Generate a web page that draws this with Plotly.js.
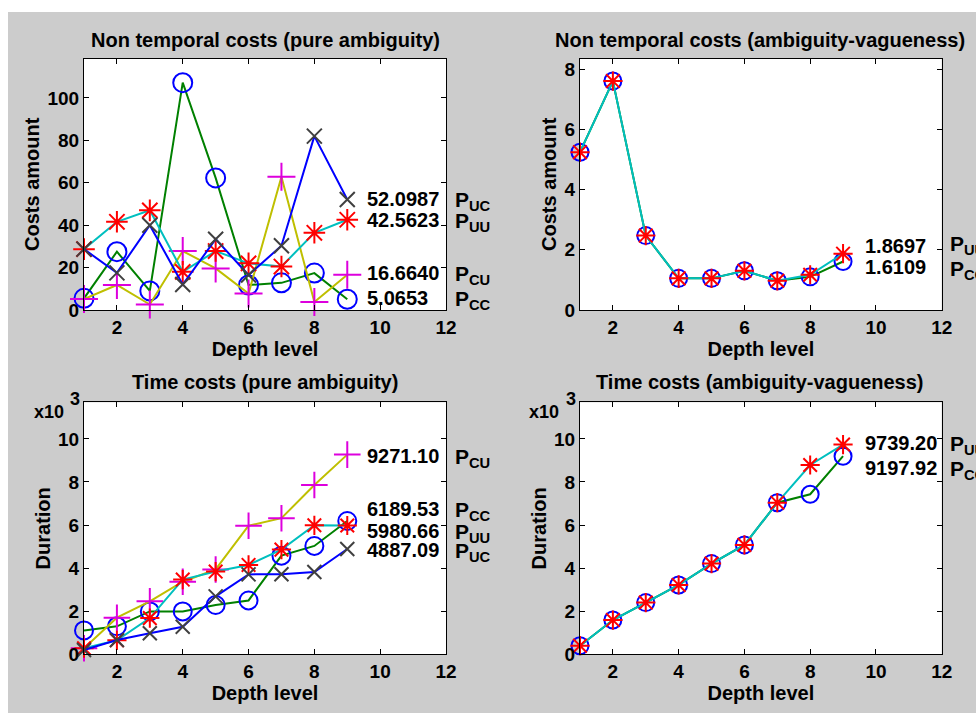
<!DOCTYPE html>
<html><head><meta charset="utf-8">
<script src="https://cdn.plot.ly/plotly-3.0.1.min.js"></script>
<style>html,body{margin:0;padding:0;background:#ffffff;}#chart{position:absolute;left:8px;top:12px;width:968px;height:701px;}</style>
</head><body><div id="chart"></div>
<script>
// ---- data ----
const depth = [1, 2, 3, 4, 5, 6, 7, 8, 9];
const xTicks = [2, 4, 6, 8, 10, 12];

// Non temporal costs (pure ambiguity)
const ntPureUC = [28.7, 17.5, 40.0, 12.0, 33.4, 16.5, 30.3, 82.0, 52.0987];
const ntPureUU = [28.7, 41.6, 47.0, 18.0, 27.8, 22.0, 20.5, 36.4, 42.5623];
const ntPureCU = [5.2, 11.8, 2.6, 27.8, 19.6, 7.8, 62.8, 3.8, 16.6640];
const ntPureCC = [5.5, 27.5, 9.0, 107.2, 62.3, 11.8, 12.8, 17.4, 5.0653];
const ntPureText = ['52.0987', '42.5623', '16.6640', '5.0653'];

// Non temporal costs (ambiguity-vagueness)
const ntVagCC = [5.24, 7.6, 2.47, 1.05, 1.05, 1.3, 0.97, 1.1, 1.6109];
const ntVagUU = [5.24, 7.6, 2.47, 1.05, 1.05, 1.3, 0.97, 1.17, 1.8697];
const ntVagText = ['1.8697', '1.6109'];

// Time costs (pure ambiguity)
const tPureCU = [280, 1700, 2460, 3370, 3940, 5970, 6320, 7860, 9271.10];
const tPureCC = [1110, 1300, 1990, 1990, 2290, 2500, 4580, 5030, 6189.53];
const tPureUU = [280, 650, 1680, 3470, 3840, 4150, 4860, 5990, 5980.66];
const tPureUC = [200, 660, 980, 1280, 2690, 3710, 3720, 3820, 4887.09];
const tPureText = ['9271.10', '6189.53', '5980.66', '4887.09'];

// Time costs (ambiguity-vagueness)
const tVagCC = [400, 1590, 2400, 3220, 4210, 5080, 7040, 7430, 9197.92];
const tVagUU = [400, 1590, 2400, 3220, 4210, 5080, 7040, 8790, 9739.20];
const tVagText = ['9739.20', '9197.92'];

const durTickVals = [0, 2000, 4000, 6000, 8000, 10000];
const durTickText = ['0', '2', '4', '6', '8', '10'];

// ---- styles ----
const FONT = 'Liberation Sans, Arial, Helvetica, sans-serif';
const C = {green: '#008000', blue: '#0000ff', cyan: '#00bfbf', yellow: '#bfbf00',
           red: '#ff0000', gray: '#404040', magenta: '#dd00dd'};
const PX = px => (px - 8) / 968;
const PY = py => 1 - (py - 12) / 701;

function tr(xa, ya, y, lineColor, sym, mColor, mSize) {
  return {x: depth, y: y, xaxis: xa, yaxis: ya, type: 'scatter', mode: 'lines+markers',
    line: {color: lineColor, width: 2}, cliponaxis: false,
    marker: {symbol: sym, color: mColor, size: mSize, line: {color: mColor, width: 2}},
    hoverinfo: 'x+y', showlegend: false};
}

const data = [
  tr('x', 'y', ntPureCC, C.green, 'circle-open', C.blue, 19),
  tr('x', 'y', ntPureCU, C.yellow, 'cross-thin-open', C.magenta, 20),
  tr('x', 'y', ntPureUU, C.cyan, 'asterisk-open', C.red, 18),
  tr('x', 'y', ntPureUC, C.blue, 'x-thin-open', C.gray, 15),

  tr('x2', 'y2', ntVagCC, C.green, 'circle-open', C.blue, 17),
  tr('x2', 'y2', ntVagUU, C.cyan, 'asterisk-open', C.red, 16),

  tr('x3', 'y3', tPureCC, C.green, 'circle-open', C.blue, 18),
  tr('x3', 'y3', tPureCU, C.yellow, 'cross-thin-open', C.magenta, 19),
  tr('x3', 'y3', tPureUU, C.cyan, 'asterisk-open', C.red, 16),
  tr('x3', 'y3', tPureUC, C.blue, 'x-thin-open', C.gray, 14),

  tr('x4', 'y4', tVagCC, C.green, 'circle-open', C.blue, 17),
  tr('x4', 'y4', tVagUU, C.cyan, 'asterisk-open', C.red, 16)
];

const tickFont = {family: FONT, size: 19, color: '#000', weight: 'bold'};
const titleFont = {family: FONT, size: 20, color: '#000', weight: 'bold'};

function xax(dom, anchor) {
  return {domain: dom, anchor: anchor, range: [1, 12], tickvals: xTicks, ticks: 'inside', ticklen: 5,
    tickcolor: '#000', showline: true, linecolor: '#000', linewidth: 1, mirror: 'ticks',
    showgrid: false, zeroline: false, tickfont: tickFont, automargin: false,
    title: {text: 'Depth level', font: titleFont, standoff: 2}};
}
function yax(dom, anchor, range, title, extra) {
  return Object.assign({domain: dom, anchor: anchor, range: range, ticks: 'inside', ticklen: 5,
    tickcolor: '#000', showline: true, linecolor: '#000', linewidth: 1, mirror: 'ticks',
    showgrid: false, zeroline: false, tickfont: tickFont, automargin: false,
    title: {text: title, font: titleFont, standoff: 2}}, extra || {});
}

const domL = [PX(84), PX(446)], domR = [PX(580), PX(941.7)];
const domT = [PY(310), PY(58.5)], domB = [PY(654.3), PY(402.3)];

const ann = [];
function label(xa, ya, x, y, text, size) {
  ann.push({xref: xa, yref: ya, x: x, y: y, text: text, showarrow: false, xanchor: 'left', yanchor: 'middle',
    font: {family: FONT, size: size || 20, color: '#000', weight: 'bold'}});
}
function plabel(pxX, ya, y, sub) {
  ann.push({xref: 'paper', yref: ya, x: PX(pxX), y: y, text: 'P<sub>' + sub + '</sub>', showarrow: false,
    xanchor: 'left', yanchor: 'middle', yshift: -2,
    font: {family: FONT, size: 21, color: '#000', weight: 'bold'}});
}
function ptitle(cx, cy, text) {
  ann.push({xref: 'paper', yref: 'paper', x: PX(cx), y: PY(cy), text: text, showarrow: false,
    xanchor: 'center', yanchor: 'middle', font: titleFont});
}

ptitle(265, 40, 'Non temporal costs (pure ambiguity)');
ptitle(760, 40, 'Non temporal costs (ambiguity-vagueness)');
ptitle(265, 382, 'Time costs (pure ambiguity)');
ptitle(760, 382, 'Time costs (ambiguity-vagueness)');

// top-left value labels
const tlY = [ntPureUC[8], ntPureUU[8], ntPureCU[8], ntPureCC[8]];
const tlOff = [0.3, 0, 1.0, 0.4];
const tlSub = ['UC', 'UU', 'CU', 'CC'];
tlY.forEach((v, i) => { label('x', 'y', 9.55, v + tlOff[i], ntPureText[i]); plabel(453, 'y', v + tlOff[i], tlSub[i]); });

// top-right
const trY = [ntVagUU[8] + 0.24, ntVagCC[8] - 0.17];
['UU', 'CC'].forEach((s, i) => { label('x2', 'y2', 9.6, trY[i], ntVagText[i]); plabel(948, 'y2', trY[i] + 0.12 * (i === 0 ? 1 : -0.3), s); });

// bottom-left
const blY = [tPureCU[8] - 60, tPureCC[8] + 540, tPureUU[8] - 250, tPureUC[8] - 40];
['CU', 'CC', 'UU', 'UC'].forEach((s, i) => { label('x3', 'y3', 9.55, blY[i], tPureText[i]); plabel(453, 'y3', blY[i], s); });

// bottom-right
const brY = [tVagUU[8] + 90, tVagCC[8] - 530];
['UU', 'CC'].forEach((s, i) => { label('x4', 'y4', 9.6, brY[i], tVagText[i]); plabel(948, 'y4', brY[i], s); });

// x10^3 multipliers
[[49, 75], [544, 571]].forEach(p => {
  ann.push({xref: 'paper', yref: 'paper', x: PX(p[0]), y: PY(412), text: 'x10', showarrow: false,
    xanchor: 'center', yanchor: 'middle', font: {family: FONT, size: 18, color: '#000', weight: 'bold'}});
  ann.push({xref: 'paper', yref: 'paper', x: PX(p[1]), y: PY(399), text: '3', showarrow: false,
    xanchor: 'center', yanchor: 'middle', font: {family: FONT, size: 18, color: '#000', weight: 'bold'}});
});

const layout = {
  width: 968, height: 701, margin: {l: 0, r: 0, t: 0, b: 0, pad: 0},
  paper_bgcolor: '#cccccc', plot_bgcolor: '#ffffff', showlegend: false,
  font: {family: FONT, color: '#000'},
  xaxis: xax(domL, 'y'), yaxis: yax(domT, 'x', [0, 118.6], 'Costs amount', {tickvals: [0, 20, 40, 60, 80, 100]}),
  xaxis2: xax(domR, 'y2'), yaxis2: yax(domT, 'x2', [0, 8.35], 'Costs amount', {tickvals: [0, 2, 4, 6, 8]}),
  xaxis3: xax(domL, 'y3'), yaxis3: yax(domB, 'x3', [0, 11700], 'Duration', {tickvals: durTickVals, ticktext: durTickText}),
  xaxis4: xax(domR, 'y4'), yaxis4: yax(domB, 'x4', [0, 11700], 'Duration', {tickvals: durTickVals, ticktext: durTickText}),
  annotations: ann
};

Plotly.newPlot('chart', data, layout, {staticPlot: true, displayModeBar: false});
</script></body></html>
